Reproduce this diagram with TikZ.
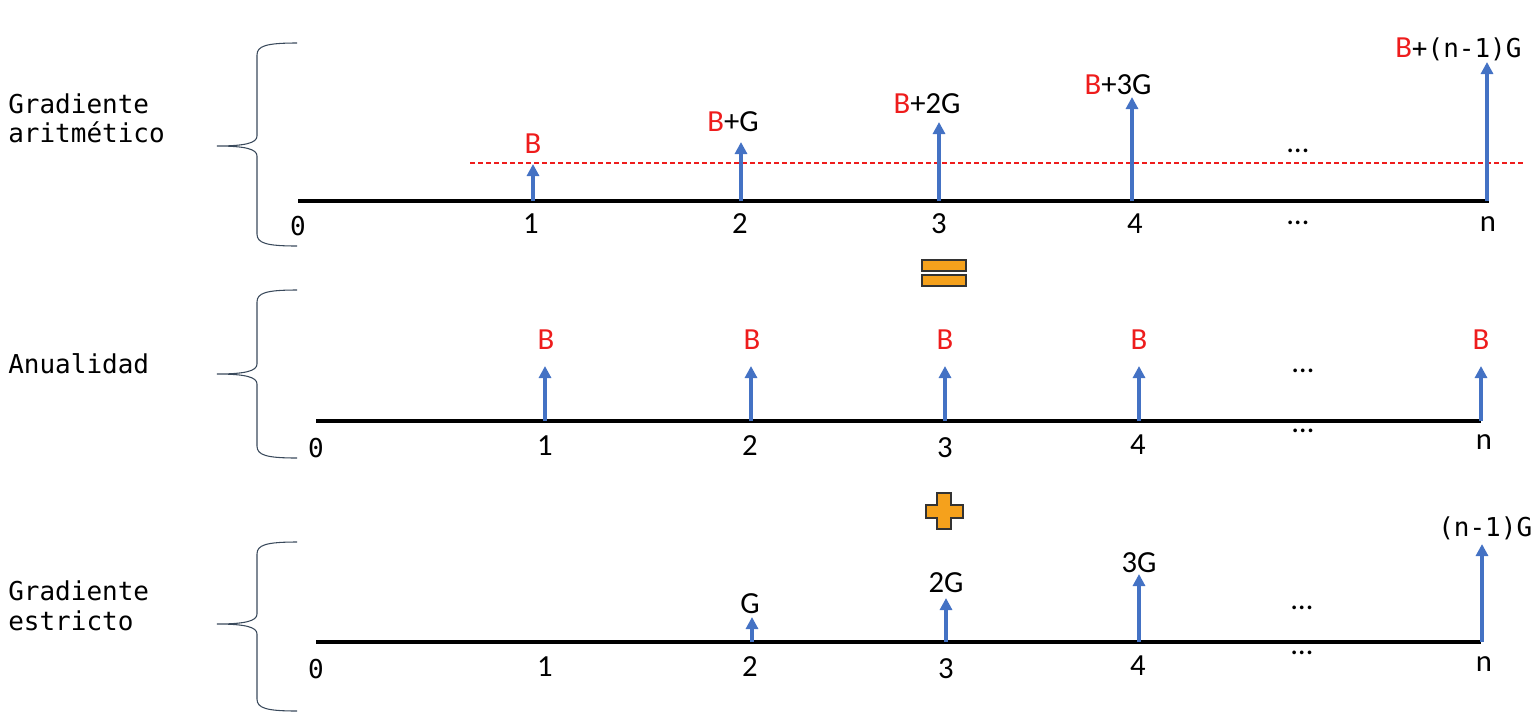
\documentclass[tikz,border=0pt]{standalone}
\usepackage{fontspec}
\setmainfont{Carlito}
\newfontfamily\monofont{DejaVu Sans Mono}
\usetikzlibrary{arrows.meta}
\definecolor{arrowblue}{HTML}{4472C4}
\definecolor{bred}{HTML}{EE1C1C}
\definecolor{signorange}{HTML}{F5A11C}
\definecolor{braceclr}{HTML}{3A4A5C}
\newcommand{\mt}[1]{{\monofont\fontsize{19.5}{22}\selectfont #1}}
\newcommand{\rb}{{\color{bred}B}}
\newcommand{\drawbrace}[3]{%
  \draw[brace] (297,#1) .. controls (266,#1) and (257,#1+3) .. (257,#1+12)
    -- (257,#2-10) .. controls (257,#2-3) and (245,#2) .. (217,#2)
    .. controls (245,#2) and (257,#2+3) .. (257,#2+10)
    -- (257,#3-12) .. controls (257,#3-3) and (266,#3) .. (297,#3);}
\begin{document}
\begin{tikzpicture}[x=0.75pt,y=-0.75pt,
  lbl/.style={font=\fontsize{23}{26}\selectfont, anchor=base, inner sep=0pt},
  mono/.style={font=\monofont\fontsize{19.5}{22}\selectfont, anchor=base west, inner sep=0pt},
  flow/.style={arrowblue, line width=2.3pt, -{Triangle[length=9pt,width=9pt]}},
  axisline/.style={black, line width=3pt},
  brace/.style={braceclr, line width=0.8pt},
  sign/.style={fill=signorange, draw=black!80, line width=1.2pt},
  refline/.style={draw=bred, line width=0.8pt, dash pattern=on 3.5pt off 2.5pt}]
\useasboundingbox (0,0) rectangle (1534,719);

% ---------- left labels and braces ----------
\node[mono] (t1a) at (8,113) {Gradiente};
\node[mono] (t1b) at (8,142) {aritmético};
\node[mono] (t2) at (8,373) {Anualidad};
\node[mono] (t3a) at (8,600) {Gradiente};
\node[mono] (t3b) at (8,630) {estricto};
\drawbrace{43}{146}{246}
\drawbrace{290}{374}{458}
\drawbrace{542}{624}{711}

% ---------- row 1 : gradiente aritmetico ----------
\coordinate (r1s) at (298,201);
\coordinate (r1e) at (1489,201);
\draw[axisline] (r1s) -- (r1e);
\coordinate (d1s) at (470,163);
\coordinate (d1e) at (1525,163);
\draw[refline] (d1s) -- (d1e);
\foreach \x/\t [count=\i] in {533/164, 741/142, 939/122, 1132/97, 1487/62}{
  \coordinate (r1b\i) at (\x,201);
  \coordinate (r1t\i) at (\x,\t);
  \draw[flow] (r1b\i) -- (r1t\i);
}
\node[lbl] (v11) at (533,153) {\rb};
\node[lbl] (v12) at (733,131) {\rb+G};
\node[lbl] (v13) at (927,113) {\rb+2G};
\node[lbl] (v14) at (1118,94) {\rb+3G};
\node[lbl,anchor=base west] (v15) at (1395,57) {\rb\mt{+(n-1)G}};
\node[lbl] (e11) at (1298,152) {…};
\node[lbl] (e12) at (1298,224) {…};
\node[mono,anchor=base] (n10) at (298,235) {0};
\node[lbl] (n11) at (531,233) {1};
\node[lbl] (n12) at (740,233) {2};
\node[lbl] (n13) at (939,233) {3};
\node[lbl] (n14) at (1135,233) {4};
\node[lbl] (n15) at (1488,231) {n};

% ---------- equals sign ----------
\draw[sign] (922,260) rectangle (966,271);
\draw[sign] (922,275) rectangle (966,286);

% ---------- row 2 : anualidad ----------
\coordinate (r2s) at (316,421);
\coordinate (r2e) at (1481,421);
\draw[axisline] (r2s) -- (r2e);
\foreach \x [count=\i] in {545, 751, 945, 1139, 1481}{
  \coordinate (r2b\i) at (\x,421);
  \coordinate (r2t\i) at (\x,366);
  \draw[flow] (r2b\i) -- (r2t\i);
}
\node[lbl] (v21) at (546,349) {\rb};
\node[lbl] (v22) at (752,349) {\rb};
\node[lbl] (v23) at (945,349) {\rb};
\node[lbl] (v24) at (1139,349) {\rb};
\node[lbl] (v25) at (1481,349) {\rb};
\node[lbl] (e21) at (1303,372) {…};
\node[lbl] (e22) at (1303,432) {…};
\node[mono,anchor=base] (n20) at (316,457) {0};
\node[lbl] (n21) at (545,455) {1};
\node[lbl] (n22) at (750,455) {2};
\node[lbl] (n23) at (945,457) {3};
\node[lbl] (n24) at (1138,454) {4};
\node[lbl] (n25) at (1484,449) {n};

% ---------- plus sign ----------
\draw[sign] (937,493) -- (951,493) -- (951,505) -- (963,505) -- (963,518)
  -- (951,518) -- (951,529) -- (937,529) -- (937,518) -- (926,518)
  -- (926,505) -- (937,505) -- cycle;

% ---------- row 3 : gradiente estricto ----------
\coordinate (r3s) at (316,642);
\coordinate (r3e) at (1481,642);
\draw[axisline] (r3s) -- (r3e);
\foreach \x/\t [count=\i] in {752/617, 946/598, 1139/574, 1482/544}{
  \coordinate (r3b\i) at (\x,642);
  \coordinate (r3t\i) at (\x,\t);
  \draw[flow] (r3b\i) -- (r3t\i);
}
\node[lbl] (v31) at (750,613) {G};
\node[lbl] (v32) at (946,592) {2G};
\node[lbl] (v33) at (1139,572) {3G};
\node[mono] (v34) at (1438,536) {(n-1)G};
\node[lbl] (e31) at (1302,609) {…};
\node[lbl] (e32) at (1302,654) {…};
\node[mono,anchor=base] (n30) at (316,678) {0};
\node[lbl] (n31) at (545,676) {1};
\node[lbl] (n32) at (750,676) {2};
\node[lbl] (n33) at (946,678) {3};
\node[lbl] (n34) at (1138,675) {4};
\node[lbl] (n35) at (1484,671) {n};
\end{tikzpicture}
\end{document}
